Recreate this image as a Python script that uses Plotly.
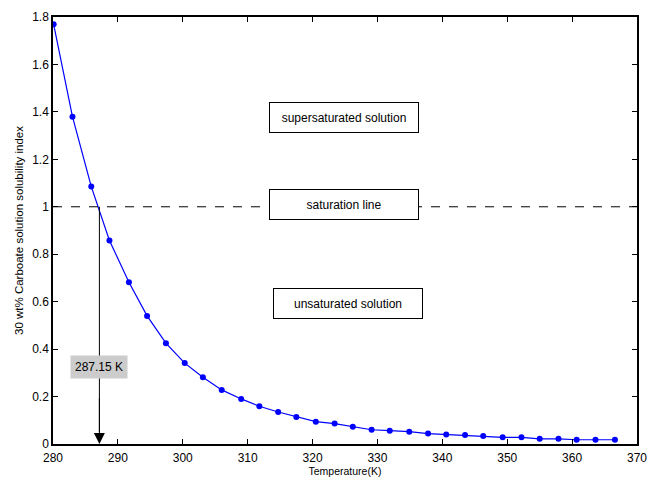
import plotly.graph_objects as go

temperature_K = [280.1, 283.0, 285.9, 288.7, 291.7, 294.5, 297.4, 300.3, 303.1, 306.0,
                 309.0, 311.8, 314.7, 317.5, 320.5, 323.4, 326.2, 329.1, 331.9, 334.9,
                 337.8, 340.6, 343.5, 346.3, 349.3, 352.2, 355.0, 357.9, 360.7, 363.6, 366.6]
solubility_index = [1.769, 1.380, 1.085, 0.858, 0.682, 0.540, 0.425, 0.341, 0.281, 0.228,
                    0.190, 0.159, 0.135, 0.114, 0.094, 0.086, 0.073, 0.060, 0.056, 0.052,
                    0.044, 0.040, 0.038, 0.034, 0.028, 0.028, 0.022, 0.022, 0.018, 0.018, 0.018]

saturation_T = 287.15
saturation_index = 1.0
label_T_text = "287.15 K"

region_labels = ["supersaturated solution", "saturation line", "unsaturated solution"]
region_label_x = [324.8, 324.8, 325.5]
region_label_y = [1.375, 1.011, 0.593]

x_ticks = list(range(280, 371, 10))
y_ticks = [0, 0.2, 0.4, 0.6, 0.8, 1, 1.2, 1.4, 1.6, 1.8]
y_tick_text = ["0", "0.2", "0.4", "0.6", "0.8", "1", "1.2", "1.4", "1.6", "1.8"]

FONT = "Arial, Liberation Sans, sans-serif"

fig = go.Figure()
fig.add_trace(go.Scatter(
    x=temperature_K, y=solubility_index, mode="lines+markers",
    line=dict(color="#0000ff", width=1.2),
    marker=dict(color="#0000ff", size=6),
    showlegend=False, hoverinfo="skip"))

# saturation dashed line
fig.add_shape(type="line", xref="paper", yref="y", x0=0, x1=1,
              y0=saturation_index, y1=saturation_index,
              line=dict(color="black", width=1, dash="dash"))
# vertical line from saturation point down
fig.add_shape(type="line", xref="x", yref="y", x0=saturation_T, x1=saturation_T,
              y0=saturation_index, y1=0.05, line=dict(color="black", width=1))

annotations = []
# arrowhead at x axis
annotations.append(dict(x=saturation_T, y=0, xref="x", yref="y",
                        ax=saturation_T, ay=0.2, axref="x", ayref="y",
                        showarrow=True, arrowhead=2, arrowsize=2.2, arrowwidth=1,
                        arrowcolor="black", text=""))
annotations.append(dict(x=saturation_T, y=0.324, xref="x", yref="y", showarrow=False,
                        text=label_T_text, bgcolor="#cccccc", borderpad=4,
                        font=dict(family=FONT, size=12, color="black")))
for txt, lx, ly in zip(region_labels, region_label_x, region_label_y):
    annotations.append(dict(x=lx, y=ly, xref="x", yref="y", showarrow=False,
                            text=txt, bgcolor="white", bordercolor="black",
                            borderwidth=1, borderpad=4, width=140, height=21,
                            font=dict(family=FONT, size=12, color="black")))

fig.update_layout(
    width=649, height=481,
    margin=dict(l=53, r=12, t=17, b=37),
    paper_bgcolor="white", plot_bgcolor="white",
    font=dict(family=FONT, size=12, color="black"),
    annotations=annotations,
    xaxis=dict(range=[280, 370], tickvals=x_ticks, ticks="inside", ticklen=5,
               tickcolor="black", showline=True, linecolor="black", linewidth=1.5,
               mirror="ticks", showgrid=False, zeroline=False, automargin=False,
               tickfont=dict(family=FONT, size=12), ticklabelstandoff=2,
               title=dict(text="Temperature(K)", font=dict(family=FONT, size=10.5), standoff=2)),
    yaxis=dict(range=[0, 1.8], tickvals=y_ticks, ticktext=y_tick_text, ticks="inside",
               ticklen=5, tickcolor="black", showline=True, linecolor="black",
               linewidth=1.5, mirror="ticks", showgrid=False, zeroline=False, automargin=False,
               tickfont=dict(family=FONT, size=12),
               title=dict(text="30 wt% Carboate solution solubility index",
                          font=dict(family=FONT, size=11.5), standoff=6)),
)

fig.write_html("out.html", config={"displayModeBar": False},
               post_script="document.body.style.margin='0';document.body.style.overflow='hidden';")
